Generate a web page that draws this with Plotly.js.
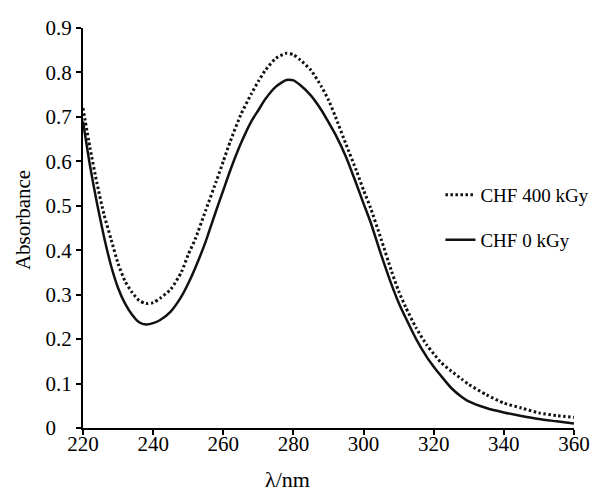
<!DOCTYPE html>
<html>
<head>
<meta charset="utf-8">
<script src="https://cdn.plot.ly/plotly-3.0.1.min.js"></script>
<style>html,body{margin:0;padding:0;background:#fff;}#chart{width:592px;height:491px;}</style>
</head>
<body>
<div id="chart"></div>
<script>
// Wavelength (nm)
const wavelength = [220,222,224,226,228,230,232,234,236,238,240,242,245,248,250,252,255,258,260,262,265,268,270,272,275,278,280,282,285,288,290,292,295,298,300,302,305,308,310,312,315,318,320,322,325,328,330,335,340,345,350,355,360];
// CHF 0 kGy absorbance
const abs0 = [0.69,0.59,0.505,0.43,0.365,0.315,0.28,0.255,0.238,0.233,0.236,0.243,0.262,0.295,0.325,0.36,0.42,0.49,0.535,0.58,0.64,0.69,0.715,0.74,0.768,0.783,0.782,0.771,0.748,0.715,0.688,0.66,0.61,0.548,0.505,0.463,0.39,0.322,0.282,0.248,0.2,0.16,0.138,0.118,0.09,0.07,0.06,0.045,0.035,0.027,0.02,0.015,0.01];
// CHF 400 kGy absorbance
const abs400 = [0.72,0.63,0.55,0.48,0.425,0.37,0.33,0.305,0.287,0.28,0.282,0.292,0.312,0.35,0.39,0.425,0.49,0.555,0.6,0.645,0.705,0.752,0.78,0.805,0.832,0.843,0.84,0.828,0.805,0.768,0.738,0.7,0.638,0.578,0.535,0.495,0.425,0.352,0.308,0.272,0.225,0.187,0.167,0.148,0.128,0.11,0.098,0.075,0.056,0.045,0.034,0.028,0.024];
const seriesNames = ["CHF 400 kGy", "CHF 0 kGy"];
// Y tick labels (left-aligned in the original, so "0" is padded)
const yTickVals = [0,0.1,0.2,0.3,0.4,0.5,0.6,0.7,0.8,0.9];
const yTickText = ["0\u00A0\u00A0\u00A0","0.1","0.2","0.3","0.4","0.5","0.6","0.7","0.8","0.9"];
const xTitle = "λ/nm";
const yTitle = "Absorbance";

const serif = "'Liberation Serif', 'Times New Roman', Times, serif";

const traces = [
  {x: wavelength, y: abs400, name: seriesNames[0], mode: "lines", type: "scatter",
   line: {color: "#111", width: 3, dash: "2.5px,2.5px", shape: "spline", smoothing: 0.6}, legend: "legend"},
  {x: wavelength, y: abs0, name: seriesNames[1], mode: "lines", type: "scatter",
   line: {color: "#111", width: 2.5, shape: "spline", smoothing: 0.6}, legend: "legend2"}
];

const legendFont = {family: serif, size: 19, color: "#000"};
const layout = {
  width: 592, height: 491,
  margin: {l: 83, r: 18, t: 28, b: 63, pad: 0, autoexpand: false},
  paper_bgcolor: "#fff", plot_bgcolor: "#fff",
  showlegend: true,
  font: {family: serif, color: "#000"},
  xaxis: {
    range: [220, 360], dtick: 20, tick0: 220, showgrid: false, zeroline: false,
    showline: true, linecolor: "#000", linewidth: 2,
    ticks: "outside", ticklen: 5, tickwidth: 2, tickcolor: "#000",
    ticklabelstandoff: -9,
    tickfont: {family: serif, size: 21, color: "#000"}
  },
  yaxis: {
    range: [0, 0.9], tickmode: "array", tickvals: yTickVals, ticktext: yTickText,
    showgrid: false, zeroline: false,
    showline: true, linecolor: "#000", linewidth: 2,
    ticks: "outside", ticklen: 5, tickwidth: 2, tickcolor: "#000",
    tickfont: {family: serif, size: 21, color: "#000"}
  },
  legend: {x: 0.728, y: 0.5825, xanchor: "left", yanchor: "middle",
           bgcolor: "rgba(0,0,0,0)", font: legendFont},
  legend2: {x: 0.728, y: 0.47, xanchor: "left", yanchor: "middle",
            bgcolor: "rgba(0,0,0,0)", font: legendFont},
  annotations: [
    {text: xTitle, xref: "paper", yref: "paper", x: 0.4175, y: -0.1275,
     xanchor: "center", yanchor: "middle", showarrow: false, borderpad: 0,
     font: {family: serif, size: 22, color: "#000"}},
    {text: yTitle, xref: "paper", yref: "paper", x: -0.122, y: 0.52,
     xanchor: "center", yanchor: "middle", textangle: -90, showarrow: false,
     font: {family: serif, size: 21, color: "#000"}}
  ]
};

Plotly.newPlot("chart", traces, layout, {displayModeBar: false, staticPlot: true});
</script>
</body>
</html>
